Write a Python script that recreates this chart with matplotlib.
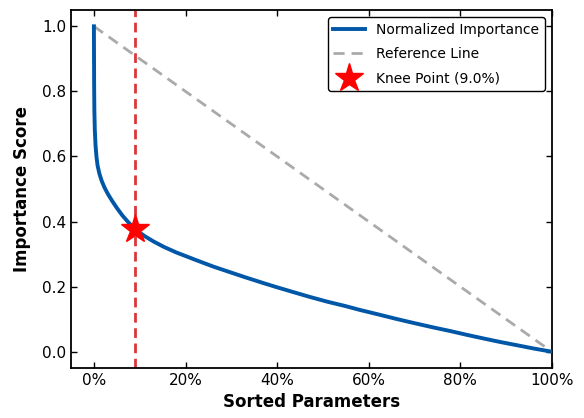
import matplotlib
matplotlib.use("Agg")
import matplotlib.pyplot as plt
from matplotlib.ticker import FuncFormatter

# Data (x in % of sorted parameters)
x_pct = [0, 0.02, 0.05, 0.1, 0.2, 0.35, 0.55, 0.8, 1.2, 1.7, 2.3, 3.0, 4.0, 5.0,
         6.2, 7.5, 9.0, 11, 13, 15.3, 18, 22.6, 26, 29.8, 33, 37, 40, 43.6, 47,
         50.9, 55, 58.2, 62, 66, 69, 74, 78, 81.4, 85, 88.7, 92, 96, 100]
importance = [1.0, 0.92, 0.82, 0.74, 0.68, 0.635, 0.60, 0.572, 0.547, 0.525, 0.505,
              0.486, 0.463, 0.442, 0.419, 0.398, 0.376, 0.356, 0.339, 0.322, 0.305,
              0.280, 0.262, 0.244, 0.229, 0.211, 0.198, 0.183, 0.169, 0.154, 0.140,
              0.128, 0.115, 0.101, 0.091, 0.075, 0.063, 0.052, 0.041, 0.030, 0.021,
              0.010, 0.0]
ref_x = [0, 100]
ref_y = [1.0, 0.0]
knee_x = 9.0
knee_y = 0.376
x_ticks = [0, 20, 40, 60, 80, 100]
y_ticks = [0.0, 0.2, 0.4, 0.6, 0.8, 1.0]

plt.rcParams['font.family'] = ['DejaVu Sans']

fig = plt.figure(figsize=(5.84, 4.18), dpi=100)
ax = fig.add_axes([0.1216, 0.1196, 0.945 - 0.1216, 0.976 - 0.1196])

ax.plot(x_pct, importance, color='#0057a8', lw=2.8, label='Normalized Importance', zorder=3)
ax.plot(ref_x, ref_y, color='#aaaaaa', lw=2, ls=(0, (4, 2.5)), label='Reference Line', zorder=2)
ax.axvline(knee_x, color='#d9383a', lw=2, ls=(0, (3.5, 2)), zorder=2)
ax.plot([knee_x], [knee_y], marker='*', color='red', markersize=21, ls='none',
        label=f'Knee Point ({knee_x:.1f}%)', zorder=4)

ax.set_xlim(-5, 100)
ax.set_ylim(-0.05, 1.05)
ax.set_xticks(x_ticks)
ax.set_yticks(y_ticks)
ax.xaxis.set_major_formatter(FuncFormatter(lambda v, p: f'{v:.0f}%'))
ax.yaxis.set_major_formatter(FuncFormatter(lambda v, p: f'{v:.1f}'))
ax.tick_params(direction='in', top=True, right=True, labelsize=11, length=4, width=1)
for s in ax.spines.values():
    s.set_linewidth(1.3)

ax.set_xlabel('Sorted Parameters', fontsize=12, fontweight='bold')
ax.set_ylabel('Importance Score', fontsize=12, fontweight='bold', labelpad=8)

leg = ax.legend(loc='upper right', fontsize=10, frameon=True, fancybox=True,
                edgecolor='black', framealpha=1, borderaxespad=0.5,
                handlelength=2.3, labelspacing=0.75)
leg.get_frame().set_linewidth(1)

fig.savefig('out.png', dpi=100)
